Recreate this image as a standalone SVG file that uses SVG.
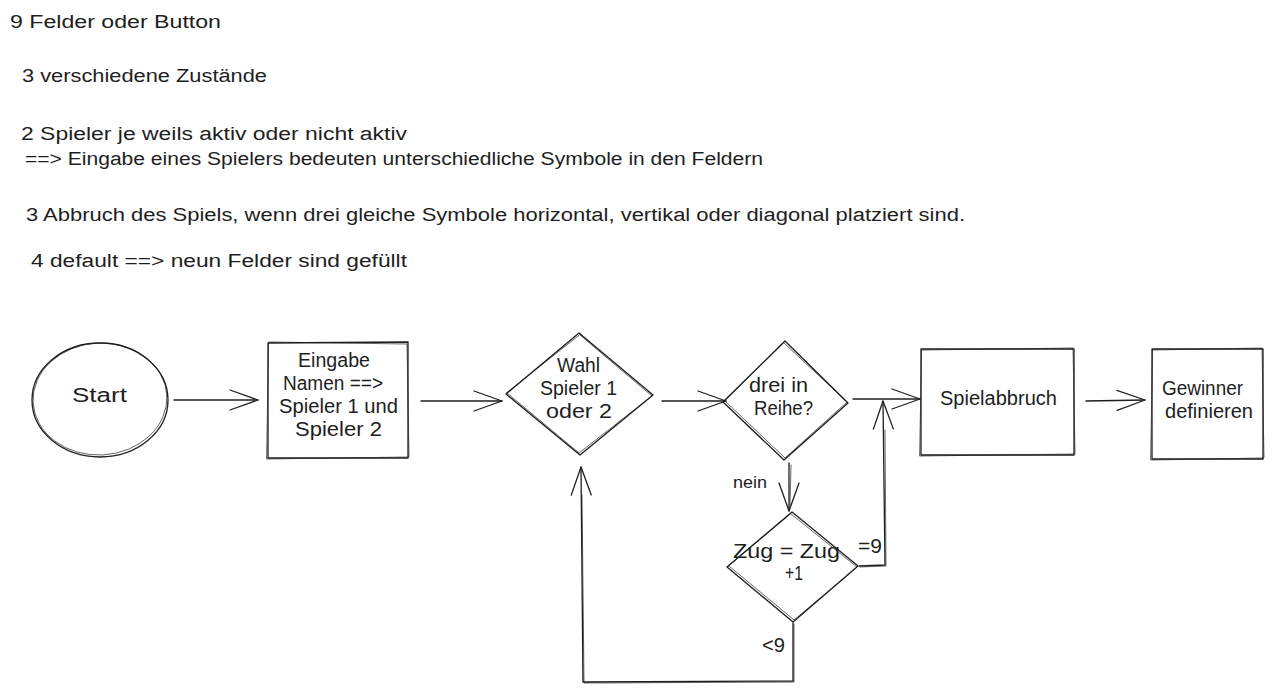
<svg xmlns="http://www.w3.org/2000/svg" width="1273" height="693" viewBox="0 0 1273 693">
<style>
  .t { font-family: "Liberation Sans", "DejaVu Sans", sans-serif; font-size: 18px; fill: #1e1e1e; }
  .n { font-family: "Liberation Sans", "DejaVu Sans", sans-serif; font-size: 20px; fill: #1e1e1e; }
  .s { fill: none; stroke: #1e1e1e; stroke-width: 1.3; stroke-linecap: round; stroke-linejoin: round; }
  .s2 { fill: none; stroke: #1e1e1e; stroke-width: 0.9; stroke-opacity: 0.75; stroke-linecap: round; stroke-linejoin: round; }
</style>
<defs>
  <marker id="arr" viewBox="0 0 30 24" refX="29" refY="12" markerWidth="30" markerHeight="24" markerUnits="userSpaceOnUse" orient="auto">
    <path d="M1,2 L29,12 L1,22" fill="none" stroke="#1e1e1e" stroke-width="1.3" stroke-linecap="round" stroke-linejoin="round"/>
  </marker>
</defs>
<rect width="1273" height="693" fill="#ffffff"/>

<g id="notes">
  <text class="t" x="10" y="28" textLength="211" lengthAdjust="spacingAndGlyphs">9 Felder oder Button</text>
  <text class="t" x="22" y="82" textLength="245" lengthAdjust="spacingAndGlyphs">3 verschiedene Zustände</text>
  <text class="t" x="21" y="140" textLength="386" lengthAdjust="spacingAndGlyphs">2 Spieler je weils aktiv oder nicht aktiv</text>
  <text class="t" x="25" y="165" textLength="738" lengthAdjust="spacingAndGlyphs">==&gt; Eingabe eines Spielers bedeuten unterschiedliche Symbole in den Feldern</text>
  <text class="t" x="26" y="221" textLength="939" lengthAdjust="spacingAndGlyphs">3 Abbruch des Spiels, wenn drei gleiche Symbole horizontal, vertikal oder diagonal platziert sind.</text>
  <text class="t" x="31" y="267" textLength="376" lengthAdjust="spacingAndGlyphs">4 default ==&gt; neun Felder sind gefüllt</text>
</g>

<g id="connectors">
  <path class="s" d="M174,400 L258,400" marker-end="url(#arr)"/>
  <path class="s" d="M421,401 L502,401" marker-end="url(#arr)"/>
  <path class="s" d="M662,401 L726,401" marker-end="url(#arr)"/>
  <path class="s" d="M853,399 L920,399" marker-end="url(#arr)"/>
  <path class="s" d="M1086,401 L1145,400" marker-end="url(#arr)"/>
  <path class="s" d="M789,463 L789,511" marker-end="url(#arr)"/>
  <path class="s2" d="M791,465 L790,505"/>
  <path class="s" d="M859,566 L885,565 L883,401" marker-end="url(#arr)"/>
  <path class="s2" d="M860,567 L886,566 L885,430"/>
  <path class="s" d="M793,623 L793,681 L583,682 L581,467" marker-end="url(#arr)"/>
  <path class="s2" d="M794,624 L794,682 L584,683 L582,495"/>
  <text class="n" x="733" y="488" textLength="34" lengthAdjust="spacingAndGlyphs" style="font-size:17px">nein</text>
  <text class="n" x="858" y="553" textLength="24" lengthAdjust="spacingAndGlyphs">=9</text>
  <text class="n" x="762" y="652" textLength="23" lengthAdjust="spacingAndGlyphs">&lt;9</text>
</g>

<g id="start">
  <ellipse class="s" cx="100" cy="400" rx="68" ry="57"/>
  <ellipse class="s2" cx="100" cy="399" rx="67" ry="56" transform="rotate(-3 100 399)"/>
  <text class="n" x="72" y="402" textLength="55" lengthAdjust="spacingAndGlyphs">Start</text>
</g>

<g id="eingabe">
  <path class="s" d="M268,343 L408,342 L408,458 L268,458 Z"/>
  <path class="s2" d="M269,342 L407,344 L409,457 L267,459 Z"/>
  <text class="n" x="298" y="367" textLength="72" lengthAdjust="spacingAndGlyphs">Eingabe</text>
  <text class="n" x="283" y="390" textLength="100" lengthAdjust="spacingAndGlyphs">Namen ==&gt;</text>
  <text class="n" x="279" y="413" textLength="119" lengthAdjust="spacingAndGlyphs">Spieler 1 und</text>
  <text class="n" x="295" y="436" textLength="87" lengthAdjust="spacingAndGlyphs">Spieler 2</text>
</g>

<g id="wahl">
  <path class="s" d="M579,333 L653,395 L580,455 L506,394 Z"/>
  <path class="s2" d="M580,335 L652,396 L579,453 L507,393 Z"/>
  <text class="n" x="557" y="372" textLength="43" lengthAdjust="spacingAndGlyphs">Wahl</text>
  <text class="n" x="540" y="395" textLength="77" lengthAdjust="spacingAndGlyphs">Spieler 1</text>
  <text class="n" x="546" y="418" textLength="66" lengthAdjust="spacingAndGlyphs">oder 2</text>
</g>

<g id="reihe">
  <path class="s" d="M785,341 L848,403 L784,460 L723,402 Z"/>
  <path class="s2" d="M784,343 L847,402 L785,458 L725,401 Z"/>
  <text class="n" x="749" y="392" textLength="59" lengthAdjust="spacingAndGlyphs">drei in</text>
  <text class="n" x="754" y="415" textLength="59" lengthAdjust="spacingAndGlyphs">Reihe?</text>
</g>

<g id="zug">
  <path class="s" d="M792,512 L858,566 L793,622 L727,567 Z"/>
  <path class="s2" d="M791,514 L857,567 L794,620 L729,566 Z"/>
  <text class="n" x="733" y="558" textLength="107" lengthAdjust="spacingAndGlyphs">Zug = Zug</text>
  <text class="n" x="785" y="580" textLength="18" lengthAdjust="spacingAndGlyphs">+1</text>
</g>

<g id="spielabbruch">
  <path class="s" d="M921,349 L1074,349 L1074,455 L921,455 Z"/>
  <path class="s2" d="M922,350 L1073,348 L1075,454 L920,456 Z"/>
  <text class="n" x="940" y="405" textLength="117" lengthAdjust="spacingAndGlyphs">Spielabbruch</text>
</g>

<g id="gewinner">
  <path class="s" d="M1152,349 L1263,349 L1263,459 L1152,459 Z"/>
  <path class="s2" d="M1153,350 L1262,348 L1264,458 L1151,460 Z"/>
  <text class="n" x="1162" y="395" textLength="81" lengthAdjust="spacingAndGlyphs">Gewinner</text>
  <text class="n" x="1165" y="418" textLength="88" lengthAdjust="spacingAndGlyphs">definieren</text>
</g>
</svg>
